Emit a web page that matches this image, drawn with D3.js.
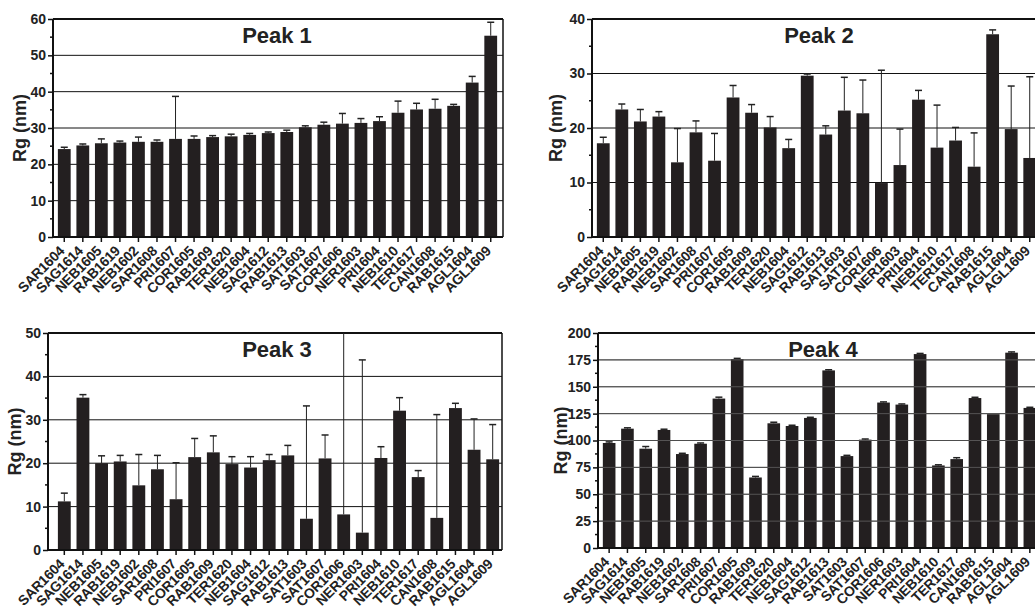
<!DOCTYPE html>
<html>
<head>
<meta charset="utf-8">
<script src="https://cdn.jsdelivr.net/npm/d3@7"></script>
<style>
  body { margin: 0; background: #fff; }
  svg { display: block; font-family: "Liberation Sans", Arial, sans-serif; font-weight: bold; }
</style>
</head>
<body>
<svg width="1035" height="611"></svg>
<script>
const samples = ["SAR1604", "SAG1614", "NEB1605", "RAB1619", "NEB1602", "SAR1608", "PRI1607", "COR1605",
  "RAB1609", "TER1620", "NEB1604", "SAG1612", "RAB1613", "SAT1603", "SAT1607", "COR1606", "NER1603",
  "PRI1604", "NEB1610", "TER1617", "CAN1608", "RAB1615", "AGL1604", "AGL1609"];

const peak1Rg = [24.2, 25.2, 25.8, 26.0, 26.2, 26.2, 27.0, 27.0, 27.5, 27.7, 28.1, 28.6, 28.9, 30.2, 30.9, 31.2, 31.4, 31.9, 34.2, 35.1, 35.3, 36.1, 42.5, 55.4];
const peak1Sd = [0.5, 0.4, 1.2, 0.4, 1.3, 0.5, 11.7, 0.8, 0.4, 0.6, 0.4, 0.3, 0.5, 0.4, 0.7, 2.8, 1.2, 1.2, 3.2, 1.7, 2.6, 0.4, 1.7, 3.7];

const peak2Rg = [17.2, 23.4, 21.2, 22.1, 13.7, 19.2, 14.0, 25.6, 22.8, 20.1, 16.3, 29.6, 18.8, 23.2, 22.7, 9.9, 13.2, 25.2, 16.4, 17.7, 12.9, 37.2, 19.8, 14.5];
const peak2Sd = [1.1, 1.0, 2.2, 0.9, 6.2, 2.1, 5.0, 2.2, 1.5, 2.0, 1.6, 0.3, 1.6, 6.1, 6.1, 20.7, 6.6, 1.7, 7.8, 2.4, 6.2, 0.8, 7.9, 14.9];

const peak3Rg = [11.2, 35.1, 20.0, 20.4, 14.9, 18.6, 11.7, 21.4, 22.5, 19.8, 19.0, 20.7, 21.8, 7.2, 21.1, 8.2, 4.0, 21.2, 32.1, 16.8, 7.4, 32.7, 23.1, 20.9];
const peak3Sd = [1.9, 0.7, 1.7, 1.4, 7.1, 3.2, 8.4, 4.3, 3.8, 1.7, 2.5, 1.3, 2.3, 26.0, 5.4, 50.0, 39.8, 2.6, 3.0, 1.5, 23.8, 1.1, 7.1, 8.0];

const peak4Rg = [97.7, 111.0, 92.4, 109.8, 87.4, 97.0, 139.0, 175.7, 65.6, 116.0, 113.5, 121.0, 165.2, 85.5, 100.8, 135.3, 133.4, 180.4, 76.8, 82.7, 139.5, 124.5, 181.7, 130.3];
const peak4Sd = [1.0, 0.8, 2.0, 0.7, 0.7, 0.7, 1.3, 0.7, 1.0, 1.0, 0.7, 0.6, 0.6, 0.7, 0.6, 0.6, 0.6, 0.6, 0.6, 1.3, 0.7, 0.0, 0.7, 0.6];

const svg = d3.select("svg");

function drawPanel(id, title, values, sds, yMax, yStep, box, overlayGrid) {
  const g = svg.append("g");

  const x = d3.scaleBand().domain(samples).range([box.x0, box.x1]).paddingInner(0.31).paddingOuter(0.155);
  const y = d3.scaleLinear().domain([0, yMax]).range([box.bottom, box.top]);

  const majors = d3.range(0, yMax + 0.001, yStep);
  const minors = d3.range(yStep / 2, yMax, yStep);

  g.append("clipPath").attr("id", "clip" + id)
    .append("rect").attr("x", box.left).attr("y", box.top).attr("width", box.right - box.left).attr("height", box.bottom - box.top);

  // gridlines behind the bars
  g.selectAll(".grid").data(majors.slice(1)).enter().append("line")
    .attr("x1", box.left).attr("x2", box.right)
    .attr("y1", d => y(d)).attr("y2", d => y(d))
    .attr("stroke", "#111").attr("stroke-width", d => d === yMax ? 2 : 1);

  const plot = g.append("g").attr("clip-path", `url(#clip${id})`);

  // error bars (upper only)
  plot.selectAll(".err").data(samples).enter().append("line")
    .attr("x1", d => x(d) + x.bandwidth() / 2).attr("x2", d => x(d) + x.bandwidth() / 2)
    .attr("y1", (d, i) => y(values[i])).attr("y2", (d, i) => y(values[i] + sds[i]))
    .attr("stroke", "#222").attr("stroke-width", 1);
  plot.selectAll(".cap").data(samples).enter().append("line")
    .attr("x1", d => x(d) + x.bandwidth() / 2 - 3.5).attr("x2", d => x(d) + x.bandwidth() / 2 + 3.5)
    .attr("y1", (d, i) => y(values[i] + sds[i])).attr("y2", (d, i) => y(values[i] + sds[i]))
    .attr("stroke", "#222").attr("stroke-width", 1.5)
    .style("display", (d, i) => sds[i] > 0 ? null : "none");

  plot.selectAll(".bar").data(samples).enter().append("rect")
    .attr("x", d => x(d)).attr("width", x.bandwidth())
    .attr("y", (d, i) => y(values[i])).attr("height", (d, i) => box.bottom - y(values[i]))
    .attr("fill", "#231f20");

  if (overlayGrid) {
    plot.selectAll(".ov").data(majors.slice(1, -1)).enter().append("line")
      .attr("x1", box.left).attr("x2", box.right)
      .attr("y1", d => y(d)).attr("y2", d => y(d))
      .attr("stroke", "#777").attr("stroke-width", 0.6);
  }

  // right frame
  g.append("line").attr("x1", box.right).attr("x2", box.right).attr("y1", box.top).attr("y2", box.bottom)
    .attr("stroke", "#111").attr("stroke-width", 1.5);

  // y axis
  const yAxis = g.append("g").attr("transform", `translate(${box.left},0)`)
    .call(d3.axisLeft(y).tickValues(majors).tickSize(5).tickPadding(2).tickFormat(d3.format("d")));
  yAxis.select(".domain").attr("stroke", "#111").attr("stroke-width", 2).attr("d", `M0,${box.top}V${box.bottom}`);
  yAxis.selectAll(".tick line").attr("stroke", "#111").attr("stroke-width", 1.5);
  yAxis.selectAll(".tick text").attr("font-size", 14).attr("font-weight", "bold").attr("fill", "#222")
    .attr("font-family", "Liberation Sans, Arial, sans-serif");
  g.selectAll(".minor").data(minors).enter().append("line")
    .attr("x1", box.left - 3).attr("x2", box.left)
    .attr("y1", d => y(d)).attr("y2", d => y(d))
    .attr("stroke", "#111").attr("stroke-width", 1.5);

  // x axis, labels slanted at 45 degrees, ending just under their tick
  const xAxis = g.append("g").attr("transform", `translate(0,${box.bottom})`)
    .call(d3.axisBottom(x).tickSize(5).tickSizeOuter(0));
  xAxis.select(".domain").attr("stroke", "#111").attr("stroke-width", 2).attr("d", `M${box.left},0H${box.right}`);
  xAxis.selectAll(".tick line").attr("stroke", "#111").attr("stroke-width", 1.5);
  xAxis.selectAll(".tick text")
    .attr("font-size", 14).attr("font-weight", "bold").attr("fill", "#222")
    .attr("font-family", "Liberation Sans, Arial, sans-serif")
    .attr("letter-spacing", "-0.3")
    .attr("text-anchor", "end")
    .attr("x", 0).attr("y", 0)
    .attr("dy", "0.35em")
    .attr("transform", "translate(-2.5,11.5) rotate(-45)");

  g.append("text").attr("x", box.titleX).attr("y", box.top + 24)
    .attr("text-anchor", "middle").attr("font-size", 22).attr("fill", "#222").text(title);

  g.append("text")
    .attr("transform", `translate(${box.labelX},${(box.top + box.bottom) / 2}) rotate(-90)`)
    .attr("text-anchor", "middle").attr("font-size", 18).attr("fill", "#222").text("Rg (nm)");
}

drawPanel(1, "Peak 1", peak1Rg, peak1Sd, 60, 10,
  { left: 53, right: 503, x0: 55, x1: 500, top: 19, bottom: 237, titleX: 277, labelX: 26 }, false);
drawPanel(2, "Peak 2", peak2Rg, peak2Sd, 40, 10,
  { left: 592, right: 1046, x0: 594, x1: 1039, top: 19, bottom: 237, titleX: 819, labelX: 562 }, false);
drawPanel(3, "Peak 3", peak3Rg, peak3Sd, 50, 10,
  { left: 48, right: 502, x0: 55, x1: 502, top: 333, bottom: 550, titleX: 277, labelX: 21 }, false);
drawPanel(4, "Peak 4", peak4Rg, peak4Sd, 200, 25,
  { left: 598, right: 1046, x0: 600, x1: 1039, top: 333, bottom: 548, titleX: 823, labelX: 567 }, true);
</script>
</body>
</html>
